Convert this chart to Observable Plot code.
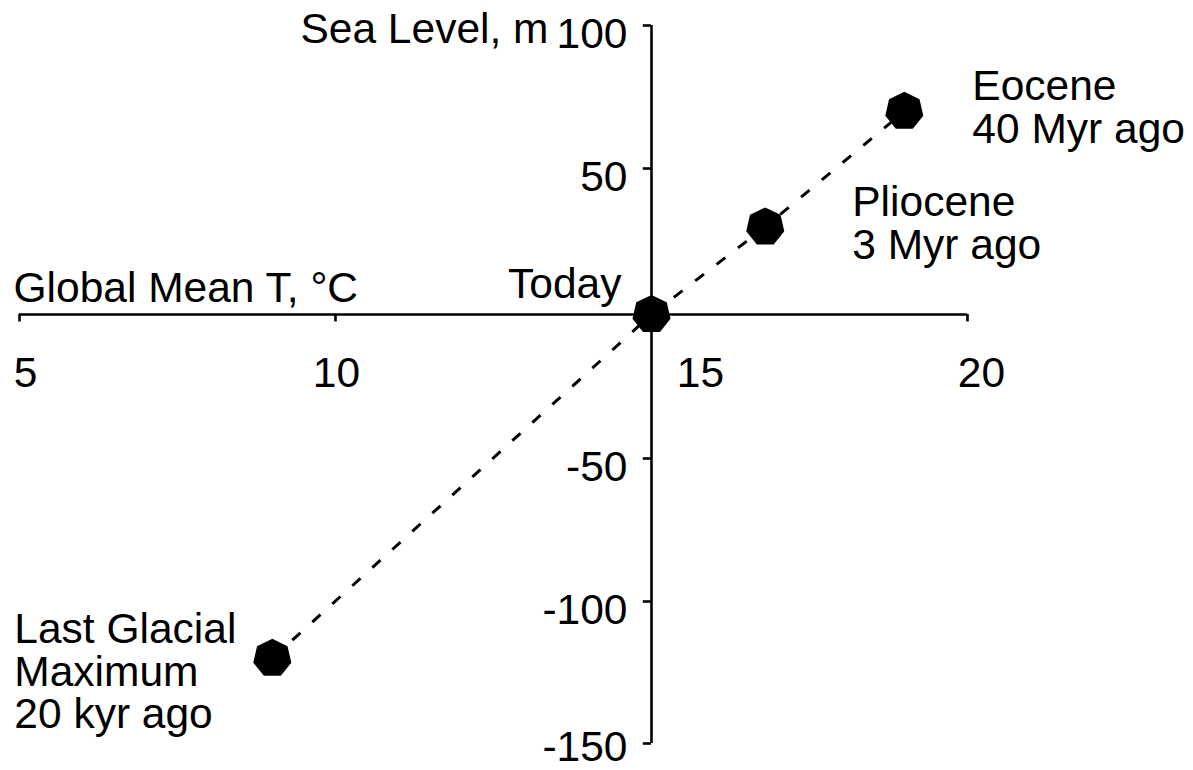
<!DOCTYPE html>
<html>
<head>
<meta charset="utf-8">
<script src="https://cdn.jsdelivr.net/npm/d3@7"></script>
<script src="https://cdn.jsdelivr.net/npm/@observablehq/plot@0.6"></script>
<style>
  html, body { margin: 0; padding: 0; background: #fff; }
  #chart svg { display: block; }
</style>
</head>
<body>
<div id="chart"></div>
<script>
// Past climate states: global mean temperature (°C) against sea level (m)
const epochs = ["Last Glacial Maximum", "Today", "Pliocene", "Eocene"];
const temperature = [9, 15, 16.8, 19];
const seaLevel = [-120, 0, 30, 70];
const epochLabels = ["Last Glacial\nMaximum\n20 kyr ago", "Today", "Pliocene\n3 Myr ago", "Eocene\n40 Myr ago"];

const xTicks = [5, 10, 15, 20];
const yTicks = [100, 50, -50, -100, -150];
const xTitle = "Global Mean T, °C";
const yTitle = "Sea Level, m";

const data = epochs.map((name, i) => ({
  name,
  t: temperature[i],
  s: seaLevel[i],
  label: epochLabels[i]
}));
const byName = (n) => data.filter((d) => d.name === n);

// Filled heptagon marker with a vertex on top
const heptagon = {
  draw(context, size) {
    const r = Math.sqrt(size / Math.PI);
    for (let k = 0; k < 7; ++k) {
      const a = -Math.PI / 2 + (2 * Math.PI * k) / 7;
      const px = r * Math.cos(a), py = r * Math.sin(a);
      if (k) context.lineTo(px, py); else context.moveTo(px, py);
    }
    context.closePath();
  }
};

const FS = 42.5;
const ink = "#000";

// Tick-label nudges along x (the 15 label steps clear of the vertical axis)
const xLabelShift = {5: 6, 10: 1, 15: 49, 20: 14};
// Baseline offset of the y tick labels (the lowest one is kept inside the frame)
const yLabelDrop = (v) => (v === -150 ? 17 : 22);

const marks = [
  // axes crossing at (15, 0)
  Plot.ruleY([0], {x1: 5, x2: 20, stroke: ink, strokeWidth: 2.6}),
  Plot.ruleX([15], {y1: -150, y2: 100, stroke: ink, strokeWidth: 2.6}),
  // x ticks hang below the horizontal axis
  Plot.ruleX(xTicks, {x: (d) => d, y1: 0, y2: -2.6, stroke: ink, strokeWidth: 2.6}),
  // y ticks point left of the vertical axis
  Plot.ruleY(yTicks, {y: (d) => d, x1: 15, x2: 14.87, stroke: ink, strokeWidth: 2.6}),
  // y tick labels
  ...yTicks.map((v) => Plot.text([v], {
    x: () => 15, y: (d) => d, text: (d) => String(d),
    textAnchor: "end", lineAnchor: "bottom", dx: -24, dy: yLabelDrop(v),
    fontSize: FS, fill: ink
  })),
  // x tick labels
  ...xTicks.map((v) => Plot.text([v], {
    x: (d) => d, y: () => 0, text: (d) => String(d),
    textAnchor: "middle", lineAnchor: "bottom", dx: xLabelShift[v], dy: 72,
    fontSize: FS, fill: ink
  })),
  // axis titles
  Plot.text([xTitle], {
    x: () => 5, y: () => 0, text: (d) => d,
    textAnchor: "start", lineAnchor: "bottom", dx: -6, dy: -13,
    fontSize: FS, fill: ink
  }),
  Plot.text([yTitle], {
    x: () => 15, y: () => 100, text: (d) => d,
    textAnchor: "end", lineAnchor: "bottom", dx: -103, dy: 17,
    fontSize: FS, fill: ink
  }),
  // dashed trajectory through the climate states
  Plot.line(data, {
    x: "t", y: "s", stroke: ink, strokeWidth: 3,
    strokeDasharray: "11,16", strokeLinecap: "butt"
  }),
  // epoch markers
  Plot.dot(data, {x: "t", y: "s", r: 19.5, symbol: heptagon, fill: ink, stroke: "none"}),
  // epoch annotations
  Plot.text(byName("Today"), {
    x: "t", y: "s", text: "label",
    textAnchor: "end", lineAnchor: "bottom", dx: -30, dy: -17,
    fontSize: FS, fill: ink
  }),
  Plot.text(byName("Eocene"), {
    x: "t", y: "s", text: "label",
    textAnchor: "start", lineAnchor: "top", lineHeight: 1.0, dx: 68, dy: -41,
    fontSize: FS, fill: ink
  }),
  Plot.text(byName("Pliocene"), {
    x: "t", y: "s", text: "label",
    textAnchor: "start", lineAnchor: "top", lineHeight: 1.0, dx: 87, dy: -41,
    fontSize: FS, fill: ink
  }),
  Plot.text(byName("Last Glacial Maximum"), {
    x: "t", y: "s", text: "label",
    textAnchor: "start", lineAnchor: "top", lineHeight: 1.0, dx: -258, dy: -45,
    fontSize: FS, fill: ink
  })
];

const chart = Plot.plot({
  width: 1193,
  height: 770,
  margin: 0,
  x: {type: "linear", domain: [5, 20], range: [19, 967], axis: null},
  y: {
    type: "linear",
    domain: [-150, -100, -50, 0, 50, 100],
    range: [743, 601, 458, 314, 168, 25],
    axis: null
  },
  style: {
    fontFamily: "'Liberation Sans', Arial, Helvetica, sans-serif",
    background: "#fff",
    color: ink,
    overflow: "visible"
  },
  marks
});

document.getElementById("chart").append(chart);
</script>
</body>
</html>
